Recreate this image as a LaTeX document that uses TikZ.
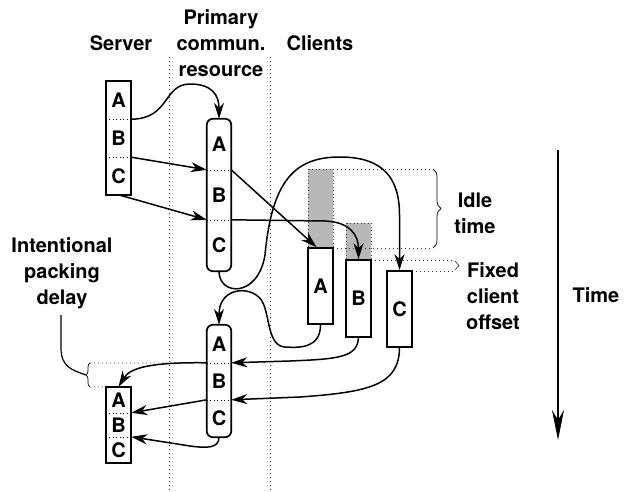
\documentclass[tikz,border=0pt]{standalone}
\usepackage{fontspec}
\setmainfont{TeX Gyre Heros}
\usetikzlibrary{arrows.meta,decorations.pathreplacing,calc}
\begin{document}
\begin{tikzpicture}[x=1pt,y=-1pt,
  lbl/.style={font=\fontsize{20}{26}\selectfont\bfseries, align=center, inner sep=0pt},
  seg/.style={lbl, minimum width=25pt, minimum height=#1},
  pseg/.style={lbl, minimum width=24pt, minimum height=#1},
  cbox/.style={lbl, draw, fill=white, line width=1.7pt, minimum width=25pt, minimum height=#1},
  frame/.style={line width=1.7pt},
  divider/.style={line width=0.7pt, dash pattern=on 1pt off 2.5pt},
  guide/.style={line width=0.7pt, black!75, dash pattern=on 1pt off 3pt},
  idle/.style={fill=black!28, draw=black!75, line width=0.7pt, dash pattern=on 1pt off 2.5pt},
  conn/.style={line width=1.5pt, -{Stealth[length=16pt,width=10pt,inset=5pt]}},
  plain/.style={line width=1.2pt},
  thinbrace/.style={line width=0.7pt, decorate, decoration={brace,amplitude=#1}}
]
\useasboundingbox (0,0) rectangle (627,491);

% column separators
\draw[guide] (169,57) -- (169,491);
\draw[guide] (270,57) -- (270,491);

% headings
\node[lbl] (tserver) at (121,43) {Server};
\node[lbl] (tprim) at (221,43) {Primary\\commun.\\resource};
\node[lbl] (tclients) at (320,43) {Clients};
\node[lbl] (tdelay) at (62,273) {Intentional\\packing\\delay};
\node[lbl] (tidle) at (475,213) {Idle\\time};
\node[lbl] (tfixed) at (493,296) {Fixed\\client\\offset};
\node[lbl] (ttime) at (596,295) {Time};

% idle periods of the clients
\path[idle] (308,169) rectangle (333,248);
\path[idle] (346,223) rectangle (371,260);
\draw[guide] (333,169) -- (433,169);
\draw[guide] (333,248) -- (433,248);
\draw[thinbrace=8pt] (433,169) -- (433,248);

% fixed client offset
\draw[guide] (371,260) -- (455,260);
\draw[guide] (412,271) -- (455,271);
\draw[line width=0.7pt, black!75] (455,261) -- (459,265.5) -- (455,270);

% server, first round
\node[seg=38pt] (s1a) at (118.5,100) {A};
\node[seg=38pt] (s1b) at (118.5,138) {B};
\node[seg=38pt] (s1c) at (118.5,176) {C};
\draw[divider] (s1a.south west) -- (s1a.south east);
\draw[divider] (s1b.south west) -- (s1b.south east);
\draw[frame] (s1a.north west) rectangle (s1c.south east);

% primary resource, first round
\node[pseg=51pt] (p1a) at (219,144.5) {A};
\node[pseg=50pt] (p1b) at (219,195) {B};
\node[pseg=51pt] (p1c) at (219,245.5) {C};
\draw[divider] (p1a.south west) -- (p1a.south east);
\draw[divider] (p1b.south west) -- (p1b.south east);
\draw[frame, rounded corners=6pt] (p1a.north west) rectangle (p1c.south east);

% clients
\node[cbox=76pt] (ca) at (320.5,286) {A};
\node[cbox=77pt] (cb) at (358.5,298.5) {B};
\node[cbox=76pt] (cc) at (399.5,309) {C};

% primary resource, second round
\node[pseg=38pt] (p2a) at (219,344) {A};
\node[pseg=37pt] (p2b) at (219,381.5) {B};
\node[pseg=37pt] (p2c) at (219,418.5) {C};
\draw[divider] (p2a.south west) -- (p2a.south east);
\draw[divider] (p2b.south west) -- (p2b.south east);
\draw[frame, rounded corners=6pt] (p2a.north west) rectangle (p2c.south east);

% server, second round
\node[seg=26pt] (s2a) at (118.5,400) {A};
\node[seg=24pt] (s2b) at (118.5,425) {B};
\node[seg=26pt] (s2c) at (118.5,450) {C};
\draw[divider] (s2a.south west) -- (s2a.south east);
\draw[divider] (s2b.south west) -- (s2b.south east);
\draw[frame] (s2a.north west) rectangle (s2c.south east);

% intentional packing delay
\draw[guide] (90,363) -- (p2b.north west);
\draw[guide] (90,387) -- (s2a.north west);
\draw[thinbrace=4pt] (90,387) -- (90,363);
\coordinate (dtop) at (61,315);
\coordinate (dtip) at (86,375);
\draw[plain] (dtop) -- (61,348) .. controls (61,367) and (72,370) .. (dtip);

% server to primary resource
\draw[conn] (s1a.south east) .. controls (170,119) and (163,84) .. (190,84)
  .. controls (212,84) and (219,95) .. (p1a.north);
\draw[conn] (s1b.south east) -- (p1b.north west);
\draw[conn] ($(s1c.south)+(1.5,0)$) -- (p1c.north west);

% primary resource to clients
\draw[conn] (p1b.north east) -- ($(ca.north)+(-4,0)$);
\draw[conn] (p1c.north east) -- (325,221) .. controls (350,222) and (358.5,235) .. (cb.north);
\draw[conn] (p1c.south) .. controls (219,296) and (258,298) .. (265,255)
  .. controls (272,180) and (295,157) .. (340,157)
  .. controls (385,157) and (399.5,180) .. (399.5,215) -- (cc.north);

% clients back to primary resource
\draw[conn] (ca.south) .. controls (320.5,348) and (300,348) .. (285,347)
  .. controls (268,346) and (270,318) .. (263,303)
  .. controls (255,285) and (219,285) .. (p2a.north);
\draw[conn] (cb.south) .. controls (357,357) and (340,359) .. (290,361) -- (p2b.north east);
\draw[conn] (cc.south) .. controls (399,385) and (370,392) .. (300,397) -- (p2c.north east);

% primary resource back to server
\draw[conn] (p2b.north west) .. controls (150,362) and (130,368) .. (s2a.north);
\draw[conn] (p2c.north west) -- (s2b.north east);
\draw[conn] (p2c.south) .. controls (219,449) and (205,448) .. (190,446) -- (s2c.north east);

% time axis
\coordinate (ttop) at (558,150);
\coordinate (tbot) at (558,440);
\draw[line width=1.4pt, -{Stealth[length=30pt,width=12pt,inset=10pt]}] (ttop) -- (tbot);
\end{tikzpicture}
\end{document}
